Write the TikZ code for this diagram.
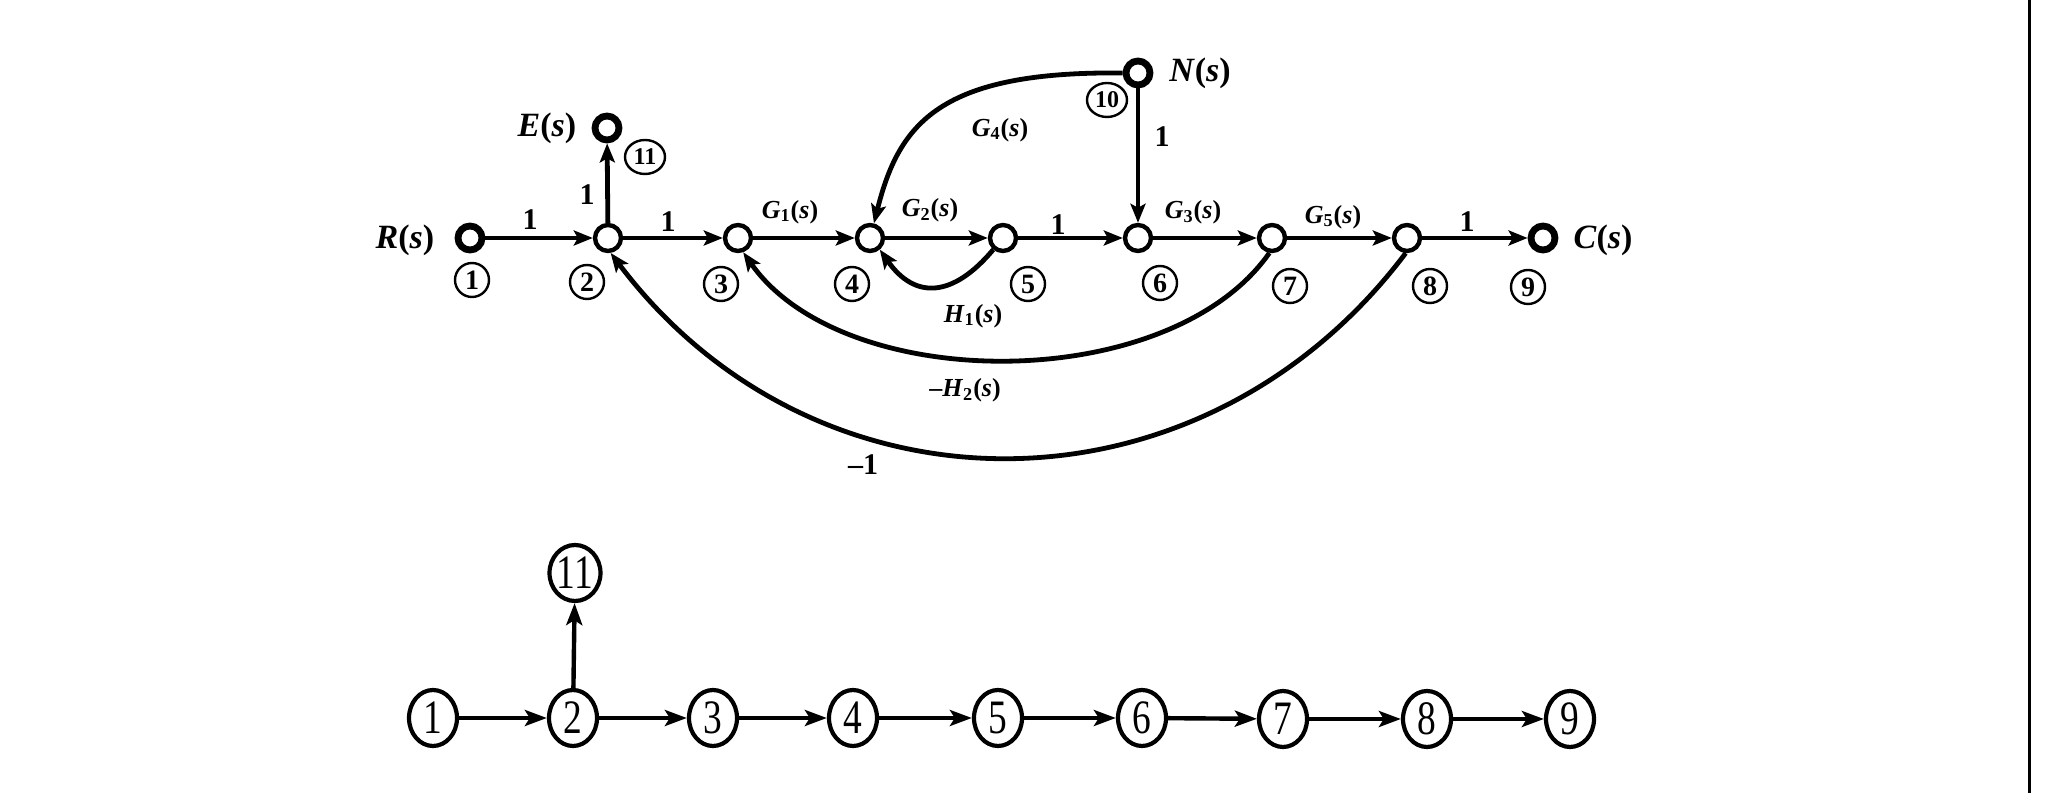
\documentclass[tikz,border=0pt]{standalone}
\usepackage{fontspec}
\setmainfont{Liberation Serif}
\usetikzlibrary{arrows.meta,shapes.geometric}
\newcommand\lbl[2]{\textit{#1}\textsubscript{#2}(\textit{s})}
\newcommand\sig[1]{\textit{#1}(\textit{s})}
\newcommand\bd[1]{\scalebox{0.78}[1]{#1}}
\begin{document}
\begin{tikzpicture}[x=0.5pt,y=0.5pt,
  sn/.style={circle,draw,line width=2.2pt,minimum size=13pt,inner sep=0pt,fill=white},
  sx/.style={sn,line width=3.4pt,minimum size=12pt},
  cn/.style={circle,draw,line width=1.2pt,minimum size=17pt,inner sep=0pt,font=\fontsize{14}{14}\selectfont\bfseries},
  cn2/.style={ellipse,draw,line width=1.2pt,minimum width=20pt,minimum height=17pt,inner sep=0pt,font=\fontsize{12}{12}\selectfont\bfseries},
  gl/.style={font=\fontsize{13}{13}\selectfont\bfseries,inner sep=1pt},
  nl/.style={font=\fontsize{17}{17}\selectfont\bfseries,inner sep=1pt},
  one/.style={font=\fontsize{15}{15}\selectfont\bfseries,inner sep=1pt},
  fl/.style={line width=2.4pt,-{Stealth[length=9.5pt,width=7.5pt,inset=2pt]}},
  bn/.style={ellipse,draw,line width=2.1pt,minimum width=24pt,minimum height=28pt,inner sep=0pt,text height=16pt,text depth=0pt,font=\fontsize{24}{24}\selectfont},
  bl/.style={line width=2.2pt,-{Stealth[length=11pt,width=8pt,inset=2.5pt]}}
]
\fill[white] (0,0) rectangle (2063,793);
\useasboundingbox (0,0) rectangle (2063,793);

% ---- top signal flow graph ----
\node[sx] (n1) at (470,555) {};
\node[sn] (n2) at (608,555) {};
\node[sn] (n3) at (738,555) {};
\node[sn] (n4) at (870,555) {};
\node[sn] (n5) at (1003,555) {};
\node[sn] (n6) at (1138,555) {};
\node[sn] (n7) at (1272,555) {};
\node[sn] (n8) at (1407,555) {};
\node[sx] (n9) at (1543,555) {};
\node[sx] (n10) at (1138,720) {};
\node[sx] (n11) at (607,665) {};

\draw[fl] (n1) -- (n2);
\draw[fl] (n2) -- (n3);
\draw[fl] (n3) -- (n4);
\draw[fl] (n4) -- (n5);
\draw[fl] (n5) -- (n6);
\draw[fl] (n6) -- (n7);
\draw[fl] (n7) -- (n8);
\draw[fl] (n8) -- (n9);
\draw[fl] (n2) -- (n11);
\draw[fl] (n10) -- (n6);
\draw[fl] (n10.west) .. controls +(-183,2) and +(25,100) .. (n4.75);
\draw[fl] (n5.-130) to[out=-130,in=-55,looseness=1.4] (n4.-50);
\draw[fl] (n7.-100) to[out=-125,in=-55,looseness=0.85] (n3.-70);
\draw[fl] (n8.-95) to[out=-127,in=-53,looseness=1.1] (n2.-80);

% signal names
\node[nl] (tR) at (405,553) {\sig{R}};
\node[nl] (tE) at (547,665) {\sig{E}};
\node[nl] (tN) at (1200,720) {\sig{N}};
\node[nl] (tC) at (1603,553) {\sig{C}};

% gains
\node[one] (g12) at (530,573) {1};
\node[one] (g211) at (587,598) {1};
\node[one] (g23) at (668,571) {1};
\node[gl] (g34) at (790,581) {\lbl{G}{1}};
\node[gl] (g45) at (930,583) {\lbl{G}{2}};
\node[one] (g56) at (1058,568) {1};
\node[gl] (g67) at (1193,581) {\lbl{G}{3}};
\node[gl] (g78) at (1333,576) {\lbl{G}{5}};
\node[one] (g89) at (1467,571) {1};
\node[gl] (g104) at (1000,663) {\lbl{G}{4}};
\node[one] (g106) at (1162,656) {1};
\node[gl] (g54) at (973,477) {\lbl{H}{1}};
\node[gl] (g73) at (965,403) {\textendash\lbl{H}{2}};
\node[one] (g82) at (863,328) {\textendash1};

% circled node numbers
\node[cn] (c1) at (472,513) {1};
\node[cn] (c2) at (587,511) {2};
\node[cn] (c3) at (721,509) {3};
\node[cn] (c4) at (852,509) {4};
\node[cn] (c5) at (1028,509) {5};
\node[cn] (c6) at (1160,510) {6};
\node[cn] (c7) at (1290,507) {7};
\node[cn] (c8) at (1430,507) {8};
\node[cn] (c9) at (1528,506) {9};
\node[cn2] (c10) at (1107,693) {10};
\node[cn2] (c11) at (645,636) {11};

% ---- bottom graph ----
\node[bn] (b1) at (433,75) {\bd{1}};
\node[bn] (b2) at (573,75) {\bd{2}};
\node[bn] (b3) at (713,75) {\bd{3}};
\node[bn] (b4) at (853,75) {\bd{4}};
\node[bn] (b5) at (998,75) {\bd{5}};
\node[bn] (b6) at (1142,75) {\bd{6}};
\node[bn] (b7) at (1283,74) {\bd{7}};
\node[bn] (b8) at (1427,74) {\bd{8}};
\node[bn] (b9) at (1570,74) {\bd{9}};
\node[bn] (b11) at (575,220) {\bd{11}};

\draw[bl] (b1) -- (b2);
\draw[bl] (b2) -- (b3);
\draw[bl] (b3) -- (b4);
\draw[bl] (b4) -- (b5);
\draw[bl] (b5) -- (b6);
\draw[bl] (b6) -- (b7);
\draw[bl] (b7) -- (b8);
\draw[bl] (b8) -- (b9);
\draw[bl] (b2) -- (b11);

% right border rule
\coordinate (vt) at (2029,793);
\coordinate (vb) at (2029,0);
\draw[line width=1.5pt] (vt) -- (vb);
\end{tikzpicture}
\end{document}
